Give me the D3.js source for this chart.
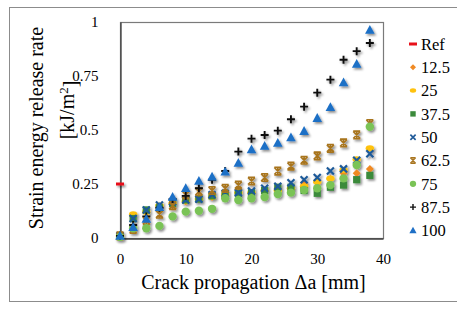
<!DOCTYPE html>
<html>
<head>
<meta charset="utf-8">
<script src="https://cdn.jsdelivr.net/npm/d3@7"></script>
<style>
body { margin: 0; background: #fff; }
text { font-family: "Liberation Serif", "Times New Roman", serif; fill: #000; }
</style>
</head>
<body>
<div id="chart"></div>
<script>
var WIDTH = 457, HEIGHT = 309;

// crack length positions [mm]
var crack = [0, 2, 4, 6, 8, 10, 12, 14, 16, 18, 20, 22, 24, 26, 28, 30, 32, 34, 36, 38];

// strain energy release rate [kJ/m2]
var ref = [0.25];
var g12_5 = [0.01, 0.10, 0.12, 0.14, 0.16, 0.17, 0.18, 0.19, 0.20, 0.21, 0.21, 0.22, 0.23, 0.23, 0.25, 0.256, 0.273, 0.30, 0.30, 0.32];
var g25   = [0.01, 0.11, 0.12, 0.15, 0.16, 0.17, 0.18, 0.19, 0.20, 0.21, 0.21, 0.22, 0.22, 0.23, 0.24, 0.26, 0.275, 0.315, 0.365, 0.415];
var g37_5 = [0.01, 0.09, 0.13, 0.14, 0.16, 0.176, 0.18, 0.195, 0.20, 0.207, 0.21, 0.22, 0.235, 0.235, 0.22, 0.207, 0.235, 0.245, 0.27, 0.29];
var g50   = [0.01, 0.09, 0.13, 0.153, 0.168, 0.176, 0.18, 0.20, 0.207, 0.21, 0.218, 0.23, 0.24, 0.256, 0.27, 0.28, 0.31, 0.32, 0.36, 0.39];
var g62_5 = [0.01, 0.04, 0.08, 0.11, 0.15, 0.20, 0.215, 0.22, 0.23, 0.245, 0.264, 0.28, 0.31, 0.333, 0.36, 0.38, 0.415, 0.44, 0.477, 0.53];
var g75   = [0.005, 0.045, 0.045, 0.056, 0.10, 0.122, 0.126, 0.135, 0.184, 0.176, 0.184, 0.19, 0.204, 0.21, 0.222, 0.23, 0.245, 0.276, 0.338, 0.515];
var g87_5 = [0.01, 0.06, 0.10, 0.14, 0.18, 0.195, 0.23, 0.27, 0.31, 0.40, 0.46, 0.477, 0.497, 0.55, 0.608, 0.673, 0.733, 0.825, 0.865, 0.903];
var g100  = [0.01, 0.05, 0.088, 0.143, 0.19, 0.23, 0.264, 0.284, 0.307, 0.347, 0.41, 0.426, 0.44, 0.465, 0.495, 0.555, 0.605, 0.72, 0.806, 0.963];

var seriesNames = ['Ref', '12.5', '25', '37.5', '50', '62.5', '75', '87.5', '100'];
var xTicks = [0, 10, 20, 30, 40];
var yTicks = [0, 0.25, 0.5, 0.75, 1];
var yTickLabels = ['0', '0.25', '0.5', '0.75', '1'];

var series = [
    {name: seriesNames[0], x: [0], y: ref, shape: 'dash', color: '#E8111A'},
    {name: seriesNames[1], x: crack, y: g12_5, shape: 'diamond', color: '#F08A24'},
    {name: seriesNames[2], x: crack, y: g25, shape: 'ellipse', color: '#FFC20E'},
    {name: seriesNames[3], x: crack, y: g37_5, shape: 'square', color: '#3B8A3B'},
    {name: seriesNames[4], x: crack, y: g50, shape: 'x', color: '#1F5A99'},
    {name: seriesNames[5], x: crack, y: g62_5, shape: 'star', color: '#A8741E'},
    {name: seriesNames[6], x: crack, y: g75, shape: 'circle', color: '#7AC356'},
    {name: seriesNames[7], x: crack, y: g87_5, shape: 'plus', color: '#111111'},
    {name: seriesNames[8], x: crack, y: g100, shape: 'triangle', color: '#1E6FC6'}
];

var svg = d3.select('#chart')
    .append('svg')
    .attr('width', WIDTH)
    .attr('height', HEIGHT);

//drop shadow like the excel markers
var defs = svg.append('defs');
var shadow = defs.append('filter').attr('id', 'shadow')
    .attr('x', '-50%').attr('y', '-50%').attr('width', '200%').attr('height', '200%');
shadow.append('feDropShadow')
    .attr('dx', 1.6).attr('dy', 1.8)
    .attr('stdDeviation', 1)
    .attr('flood-color', '#000')
    .attr('flood-opacity', 0.45);

//outer frame
svg.append('rect')
    .attr('x', 9.5).attr('y', 7.5)
    .attr('width', 460).attr('height', 294)
    .attr('fill', 'none')
    .attr('stroke', '#8c8c8c')
    .attr('stroke-width', 1);

var plot = {left: 120, right: 383, top: 22, bottom: 238};

var x = d3.scaleLinear().domain([0, 40]).range([plot.left, plot.right]);
var y = d3.scaleLinear().domain([0, 1]).range([plot.bottom, plot.top]);

//plot area border
svg.append('rect')
    .attr('x', plot.left + 0.5).attr('y', plot.top + 0.5)
    .attr('width', plot.right - plot.left).attr('height', plot.bottom - plot.top)
    .attr('fill', 'none')
    .attr('stroke', '#7a7a7a')
    .attr('stroke-width', 1.2);

//axes (no tick marks, just labels)
var xAxis = svg.append('g')
    .attr('transform', 'translate(0,' + (plot.bottom + 0.5) + ')')
    .call(d3.axisBottom(x).tickValues(xTicks).tickSize(0).tickPadding(15));
xAxis.attr('font-family', '"Liberation Serif", serif').attr('font-size', 15);
xAxis.select('.domain').attr('stroke', '#404040').attr('stroke-width', 1.3);

var yAxis = svg.append('g')
    .attr('transform', 'translate(' + (plot.left + 0.5) + ',0)')
    .call(d3.axisLeft(y).tickValues(yTicks).tickSize(0).tickPadding(22)
        .tickFormat(function(d, i) { return yTickLabels[i]; }));
yAxis.attr('font-family', '"Liberation Serif", serif').attr('font-size', 15);
yAxis.select('.domain').attr('stroke', '#404040').attr('stroke-width', 1.3);

//axis titles
svg.append('text')
    .attr('x', (plot.left + plot.right) / 2 + 2)
    .attr('y', 289)
    .attr('text-anchor', 'middle')
    .style('font-size', '20px')
    .text('Crack propagation \u0394a [mm]');

svg.append('text')
    .attr('transform', 'translate(36,128) rotate(-90)')
    .attr('text-anchor', 'middle')
    .attr('dy', '0.35em')
    .style('font-size', '20px')
    .text('Strain energy release rate');
var unit = svg.append('text')
    .attr('transform', 'translate(67,110) rotate(-90)')
    .attr('text-anchor', 'middle')
    .attr('dy', '0.35em')
    .style('font-size', '20px');
unit.append('tspan').text('[kJ/m');
unit.append('tspan').attr('dy', '-0.45em').style('font-size', '13px').text('2');
unit.append('tspan').attr('dy', '0.45em').text(']');

//marker drawing
function drawMarker(g, shape, color) {
    switch(shape) {
        case 'dash':
            g.append('rect').attr('x', -4).attr('y', -1.5).attr('width', 8).attr('height', 3).attr('fill', color);
            break;
        case 'diamond':
            g.append('path').attr('d', 'M0,-4L4,0L0,4L-4,0Z').attr('fill', color);
            break;
        case 'ellipse':
            g.append('ellipse').attr('rx', 4.2).attr('ry', 3).attr('fill', color);
            break;
        case 'square':
            g.append('rect').attr('x', -3.6).attr('y', -3.6).attr('width', 7.2).attr('height', 7.2).attr('fill', color);
            break;
        case 'x':
            g.append('path').attr('d', 'M-3.5,-3.5L3.5,3.5M-3.5,3.5L3.5,-3.5')
                .attr('stroke', color).attr('stroke-width', 2.2).attr('fill', 'none');
            break;
        case 'star':
            g.append('path').attr('d', 'M-3.5,-3.5L3.5,3.5M-3.5,3.5L3.5,-3.5M-3.5,-3.8L3.5,-3.8M-3.5,3.8L3.5,3.8M0,-3.5L0,3.5')
                .attr('stroke', color).attr('stroke-width', 1.6).attr('fill', 'none');
            break;
        case 'circle':
            g.append('circle').attr('r', 4.2).attr('fill', color);
            break;
        case 'plus':
            g.append('path').attr('d', 'M-4,0L4,0M0,-4L0,4')
                .attr('stroke', color).attr('stroke-width', 1.9).attr('fill', 'none');
            break;
        case 'triangle':
            g.append('path').attr('d', 'M0,-5L4.8,3.8L-4.8,3.8Z').attr('fill', color);
            break;
    }
}

//points, series drawn in order so later ones sit on top
var pointsGroup = svg.append('g').attr('id', 'points').attr('filter', 'url(#shadow)');
series.forEach(function(s) {
    var pts = s.x.map(function(v, i) { return {x: v, y: s.y[i]}; });
    pointsGroup.append('g').attr('class', 'series')
        .selectAll('g')
        .data(pts)
        .enter()
        .append('g')
        .attr('transform', function(d) { return 'translate(' + x(d.x) + ',' + y(d.y) + ')'; })
        .each(function() { drawMarker(d3.select(this), s.shape, s.color); });
});

//legend
var legend = svg.append('g').attr('transform', 'translate(413,44)');
series.forEach(function(s, i) {
    var row = legend.append('g').attr('transform', 'translate(0,' + (i * 23.3) + ')');
    var m = row.append('g').attr('transform', s.shape === 'dash' ? 'translate(0,0)' : 'scale(0.75)');
    drawMarker(m, s.shape, s.color);
    row.append('text')
        .attr('x', 8)
        .attr('dy', '0.35em')
        .style('font-size', '16.5px')
        .text(s.name);
});
</script>
</body>
</html>
